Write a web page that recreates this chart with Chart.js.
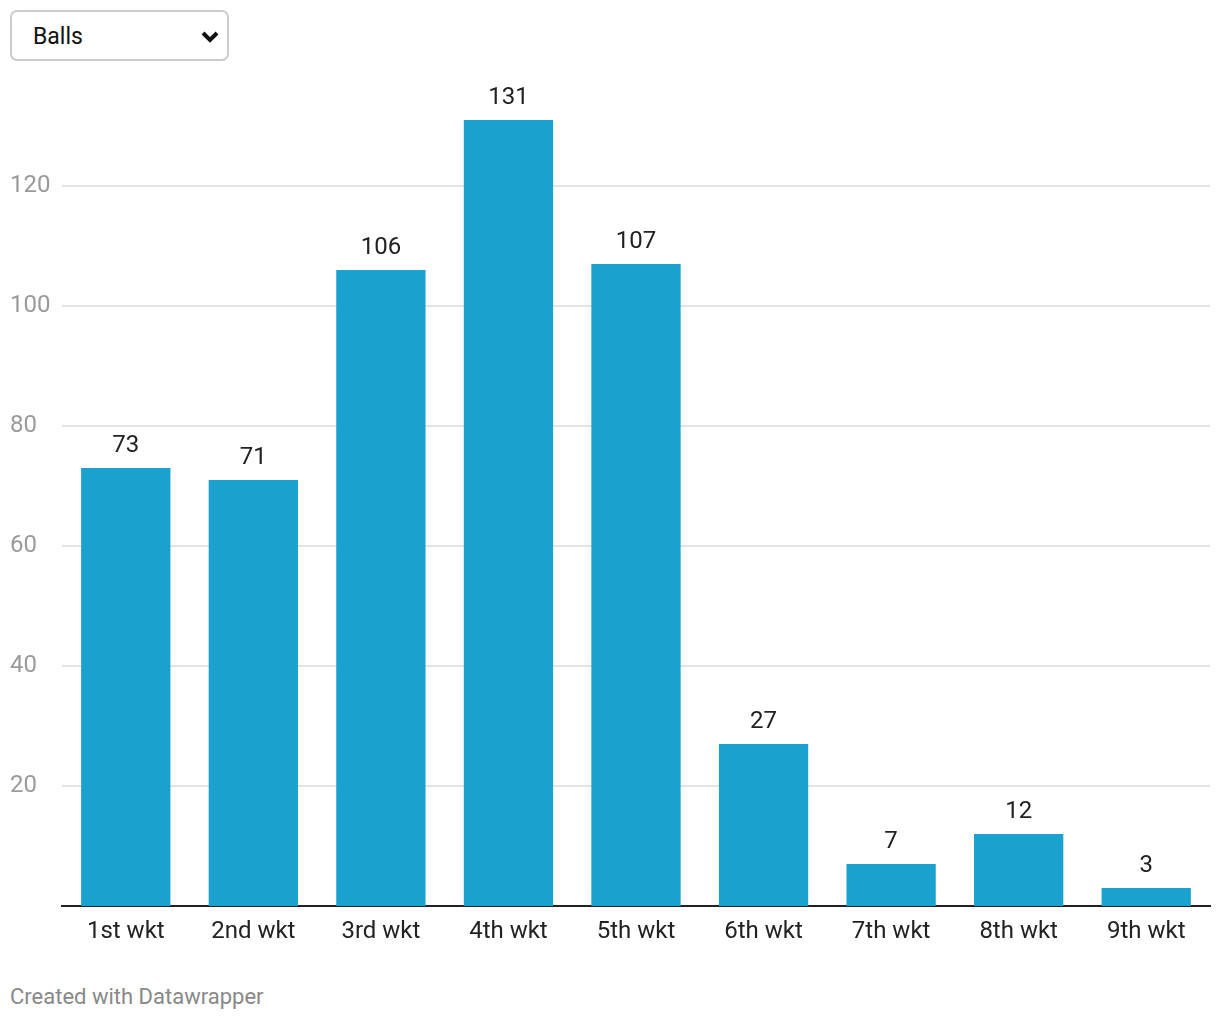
<!DOCTYPE html>
<html lang="en">
<head>
    <meta charset="UTF-8">
    <title>Partnership balls by wicket</title>
    <script src="https://cdn.jsdelivr.net/npm/chart.js"></script>
    <style>
        body {
            margin: 0;
            background: #FFFFFF;
            font-family: Roboto, Arial, sans-serif;
        }
        .wrap {
            position: relative;
            width: 1220px;
            height: 1020px;
        }
        .picker {
            position: absolute;
            left: 10px;
            top: 10px;
            width: 219px;
            height: 51px;
            box-sizing: border-box;
            border: 2px solid #CCCCCC;
            border-radius: 7px;
            background: #FFFFFF;
            z-index: 2;
        }
        .picker span {
            position: absolute;
            left: 21px;
            top: 11px;
            font-size: 23px;
            color: #111;
        }
        .picker svg {
            position: absolute;
            right: 7px;
            top: 18px;
        }
        .chart-box {
            position: absolute;
            left: 0;
            top: 0;
            width: 1220px;
            height: 956px;
        }
        .credit {
            position: absolute;
            left: 10px;
            top: 984px;
            font-size: 22px;
            color: #888888;
        }
    </style>
</head>
<body>
<div class="wrap">
    <div class="picker">
        <span>Balls</span>
        <svg width="20" height="14" viewBox="0 0 20 14"><polyline points="3,3 10,10 17,3" fill="none" stroke="#111" stroke-width="4"/></svg>
    </div>
    <div class="chart-box"><canvas id="chart"></canvas></div>
    <div class="credit">Created with Datawrapper</div>
</div>
<script>
    const wickets = ["1st wkt", "2nd wkt", "3rd wkt", "4th wkt", "5th wkt", "6th wkt", "7th wkt", "8th wkt", "9th wkt"];
    const balls = [73, 71, 106, 131, 107, 27, 7, 12, 3];
    const yTicks = [20, 40, 60, 80, 100, 120];

    // value labels above each bar
    const valueLabels = {
        id: 'valueLabels',
        afterDatasetsDraw(chart) {
            const ctx = chart.ctx;
            const meta = chart.getDatasetMeta(0);
            ctx.save();
            ctx.font = '24px Roboto';
            ctx.fillStyle = '#222222';
            ctx.textAlign = 'center';
            ctx.textBaseline = 'alphabetic';
            meta.data.forEach((bar, i) => {
                ctx.fillText(balls[i], bar.x, bar.y - 16);
            });
            ctx.restore();
        }
    };

    new Chart(document.getElementById('chart'), {
        type: 'bar',
        data: {
            labels: wickets,
            datasets: [{
                data: balls,
                backgroundColor: '#1AA1CD',
                barPercentage: 0.7,
                categoryPercentage: 1.0
            }]
        },
        options: {
            responsive: true,
            maintainAspectRatio: false,
            animation: false,
            layout: { padding: { top: 66, left: 10, right: 10, bottom: 0 } },
            plugins: {
                legend: { display: false },
                tooltip: { enabled: false }
            },
            scales: {
                x: {
                    afterFit: s => { s.height = 50; },
                    grid: { display: false, drawTicks: false },
                    border: { display: true, color: '#222222', width: 2 },
                    ticks: {
                        color: '#222222',
                        font: { family: 'Roboto', size: 24 },
                        padding: 12,
                        maxRotation: 0
                    }
                },
                y: {
                    min: 0,
                    max: 140,
                    afterFit: s => { s.width = 52; },
                    afterBuildTicks: s => { s.ticks = yTicks.map(v => ({ value: v })); },
                    border: { display: false },
                    grid: { color: '#E3E3E3', lineWidth: 2, drawTicks: false },
                    ticks: {
                        color: '#9A9A9A',
                        crossAlign: 'far',
                        font: { family: 'Roboto', size: 24 },
                        padding: 0
                    }
                }
            }
        },
        plugins: [valueLabels]
    });
</script>
</body>
</html>
